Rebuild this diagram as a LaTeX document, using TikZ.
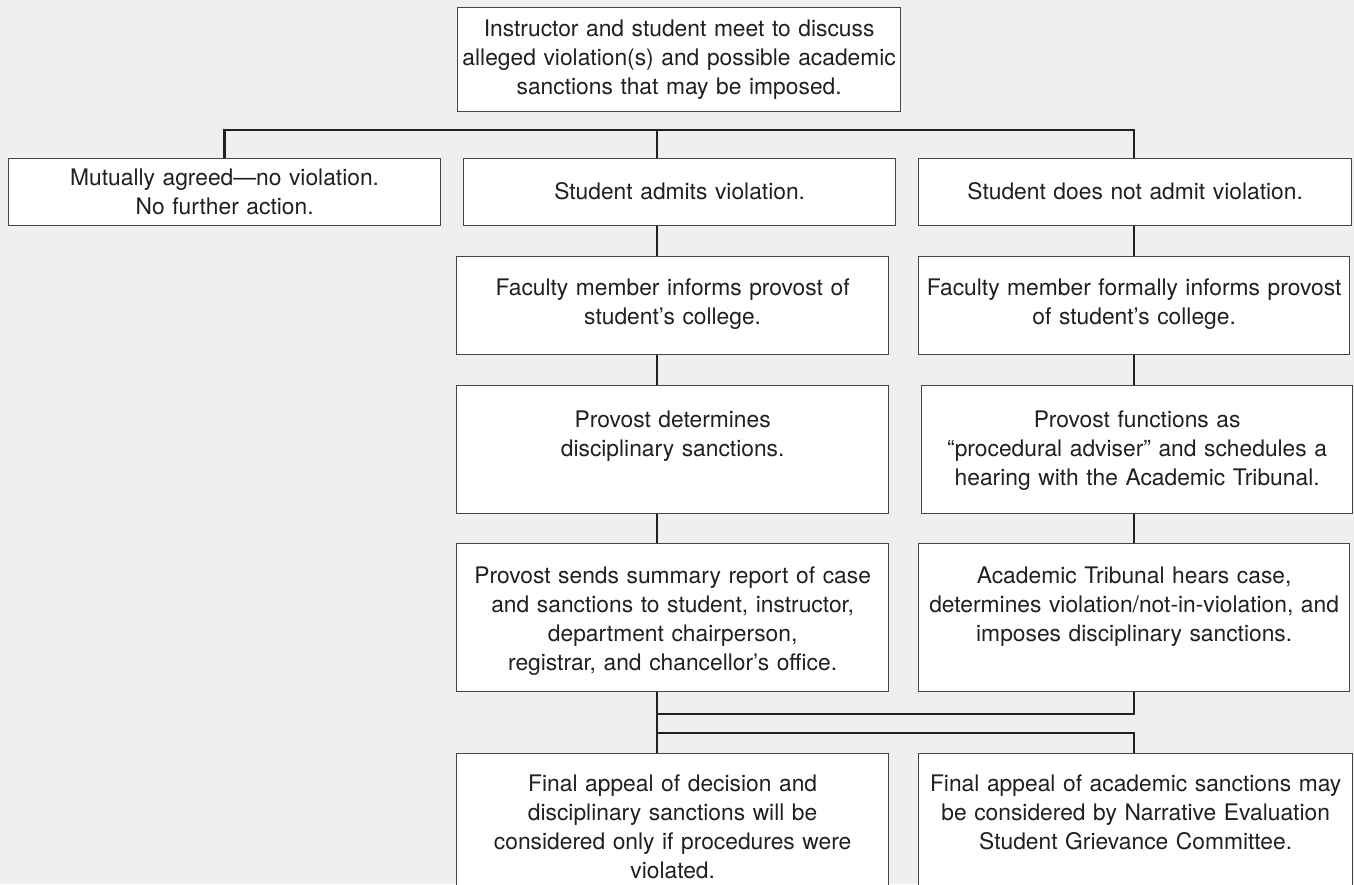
\documentclass[tikz,border=0pt]{standalone}
\usepackage{fontspec}
\setmainfont{TeX Gyre Heros}
\definecolor{bg}{RGB}{239,239,239}
\definecolor{ink}{RGB}{35,31,32}
\definecolor{edgecol}{RGB}{70,70,70}
\tikzset{
  flowbox/.style={draw=edgecol, line width=1.3pt, fill=white, inner sep=0pt,
    align=center, text=ink, font=\fontsize{22.8}{29}\selectfont, anchor=north west},
  conn/.style={draw=ink, line width=2.4pt, line join=miter}
}
% name, x-left, width, y-top, first-baseline offset, depth, text
\newcommand\mkbox[7]{%
  \node[flowbox, text width=#3pt, text height=#5pt, text depth=#6pt] (#1) at (#2pt,-#4pt) {#7};}
\begin{document}
\begin{tikzpicture}
\useasboundingbox (0,0) rectangle (1354pt,-884pt);
\clip (0,0) rectangle (1354pt,-884pt);
\fill[bg] (0,0) rectangle (1354pt,-884pt);

\mkbox{top}{457}{443}{7}{29}{75}{Instructor and student meet to discuss\\alleged violation(s) and possible academic\\sanctions that may be imposed.}
\mkbox{left}{8}{432}{158}{27}{40}{Mutually agreed—no violation.\\No further action.}
\mkbox{mida}{463}{432}{158}{41}{26}{Student admits violation.}
\mkbox{righta}{918}{433}{158}{41}{26}{Student does not admit violation.}
\mkbox{midb}{456}{432}{256}{39}{59}{Faculty member informs provost of\\student’s college.}
\mkbox{rightb}{918}{431}{256}{39}{59}{Faculty member formally informs provost\\of student’s college.}
\mkbox{midc}{456}{432}{385}{42}{86}{Provost determines\\disciplinary sanctions.}
\mkbox{rightc}{921}{431}{385}{42}{86}{Provost functions as\\“procedural adviser” and schedules a\\hearing with the Academic Tribunal.}
\mkbox{midd}{456}{432}{543}{40}{108}{Provost sends summary report of case\\and sanctions to student, instructor,\\department chairperson,\\registrar, and chancellor’s office.}
\mkbox{rightd}{918}{431}{543}{40}{108}{Academic Tribunal hears case,\\determines violation/not-in-violation, and\\imposes disciplinary sanctions.}
\mkbox{mide}{456}{432}{753}{38}{112}{Final appeal of decision and\\disciplinary sanctions will be\\considered only if procedures were\\violated.}
\mkbox{righte}{918}{434}{753}{38}{112}{Final appeal of academic sanctions may\\be considered by Narrative Evaluation\\Student Grievance Committee.}

\coordinate (cm) at (657pt,0);
\coordinate (cr) at (1134pt,0);
\coordinate (bar) at (0,-130pt);
\coordinate (ja) at (0,-714pt);
\coordinate (jb) at (0,-733pt);

\draw[conn] (left.north) -- (left.north |- bar) -- (bar -| cr) -- (righta.north -| cr);
\draw[conn] (bar -| cm) -- (mida.north -| cm);
\draw[conn] (mida.south -| cm) -- (midb.north -| cm);
\draw[conn] (midb.south -| cm) -- (midc.north -| cm);
\draw[conn] (midc.south -| cm) -- (midd.north -| cm);
\draw[conn] (midd.south -| cm) -- (mide.north -| cm);
\draw[conn] (righta.south -| cr) -- (rightb.north -| cr);
\draw[conn] (rightb.south -| cr) -- (rightc.north -| cr);
\draw[conn] (rightc.south -| cr) -- (rightd.north -| cr);
\draw[conn] (rightd.south -| cr) -- (ja -| cr) -- (ja -| cm);
\draw[conn] (jb -| cm) -- (jb -| cr) -- (righte.north -| cr);
\end{tikzpicture}
\end{document}
